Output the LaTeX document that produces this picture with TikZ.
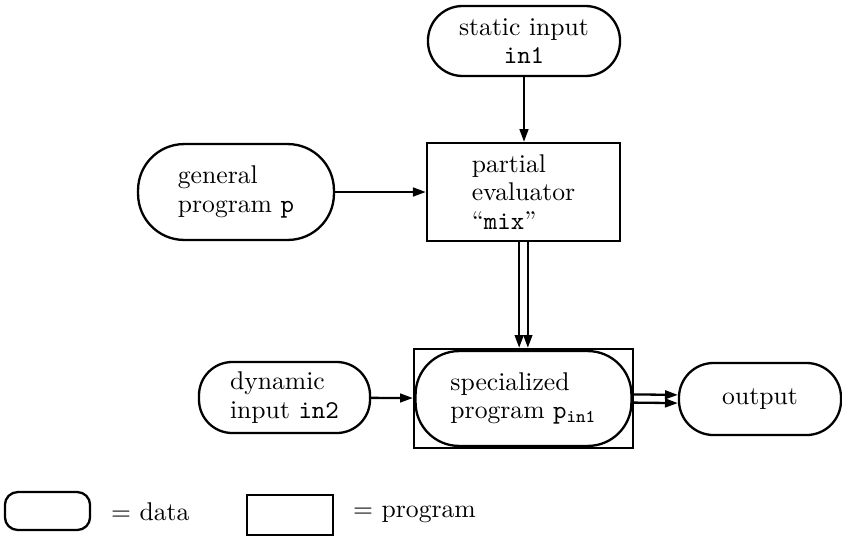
\documentclass[tikz,border=0pt]{standalone}
\usetikzlibrary{arrows.meta}
\begin{document}
\begin{tikzpicture}[x=0.39pt,y=-0.39pt,
  font=\fontsize{10}{11}\selectfont,
  every node/.style={line width=0.9pt, inner sep=0pt},
  data/.style={draw, rectangle, rounded corners=#1, align=left},
  prog/.style={draw, rectangle, align=left},
  arr/.style={line width=0.9pt, -{Triangle[length=5pt,width=3.4pt]}}]
\useasboundingbox (0,0) rectangle (842,536);

\node[data=13.5pt, align=center, minimum width=74.9pt, minimum height=27.3pt] (static) at (524,41) {static input\\\texttt{in1}};
\node[prog, minimum width=75.3pt, minimum height=38.2pt] (mix) at (523.5,192) {partial\\evaluator\\``\texttt{mix}''};
\node[data=18pt, minimum width=76.4pt, minimum height=37.4pt] (general) at (236,192) {general\\program \texttt{p}};
\node[data=13pt, minimum width=66.7pt, minimum height=27.7pt] (dynamic) at (284.5,397.5) {dynamic\\input \texttt{in2}};
\node[prog, minimum width=85.4pt, minimum height=38.6pt] (spec) at (523.5,398.5) {};
\node[data=17pt, minimum width=84.2pt, minimum height=37pt] (specr) at (523.5,398.5) {specialized\\program $\mathtt{p}_{\mathtt{in1}}$};
\node[data=13.5pt, align=center, minimum width=63.2pt, minimum height=28.1pt] (output) at (760,399) {output};

\draw[arr] (static.south) -- (static.south |- mix.north);
\draw[arr] (general) -- (mix);
\draw[arr] ([xshift=-1.7pt]mix.south) -- ([xshift=-1.7pt]mix.south |- spec.north);
\draw[arr] ([xshift=1.7pt]mix.south) -- ([xshift=1.7pt]mix.south |- spec.north);
\draw[arr] (dynamic) -- (spec);
\draw[arr] ([yshift=1.6pt]spec.east) -- ([yshift=1.6pt]output.west);
\draw[arr] ([yshift=-1.6pt]spec.east) -- ([yshift=-1.6pt]output.west);

\node[data=5pt, minimum width=33.2pt, minimum height=14.8pt] (legdata) at (47.5,511) {};
\node[anchor=west] (legdatatxt) at (110,512) {$=$ data};
\node[prog, minimum width=33.5pt, minimum height=15.6pt] (legprog) at (290,515) {};
\node[anchor=west] (legprogtxt) at (352,514) {$=$ program};
\end{tikzpicture}
\end{document}
